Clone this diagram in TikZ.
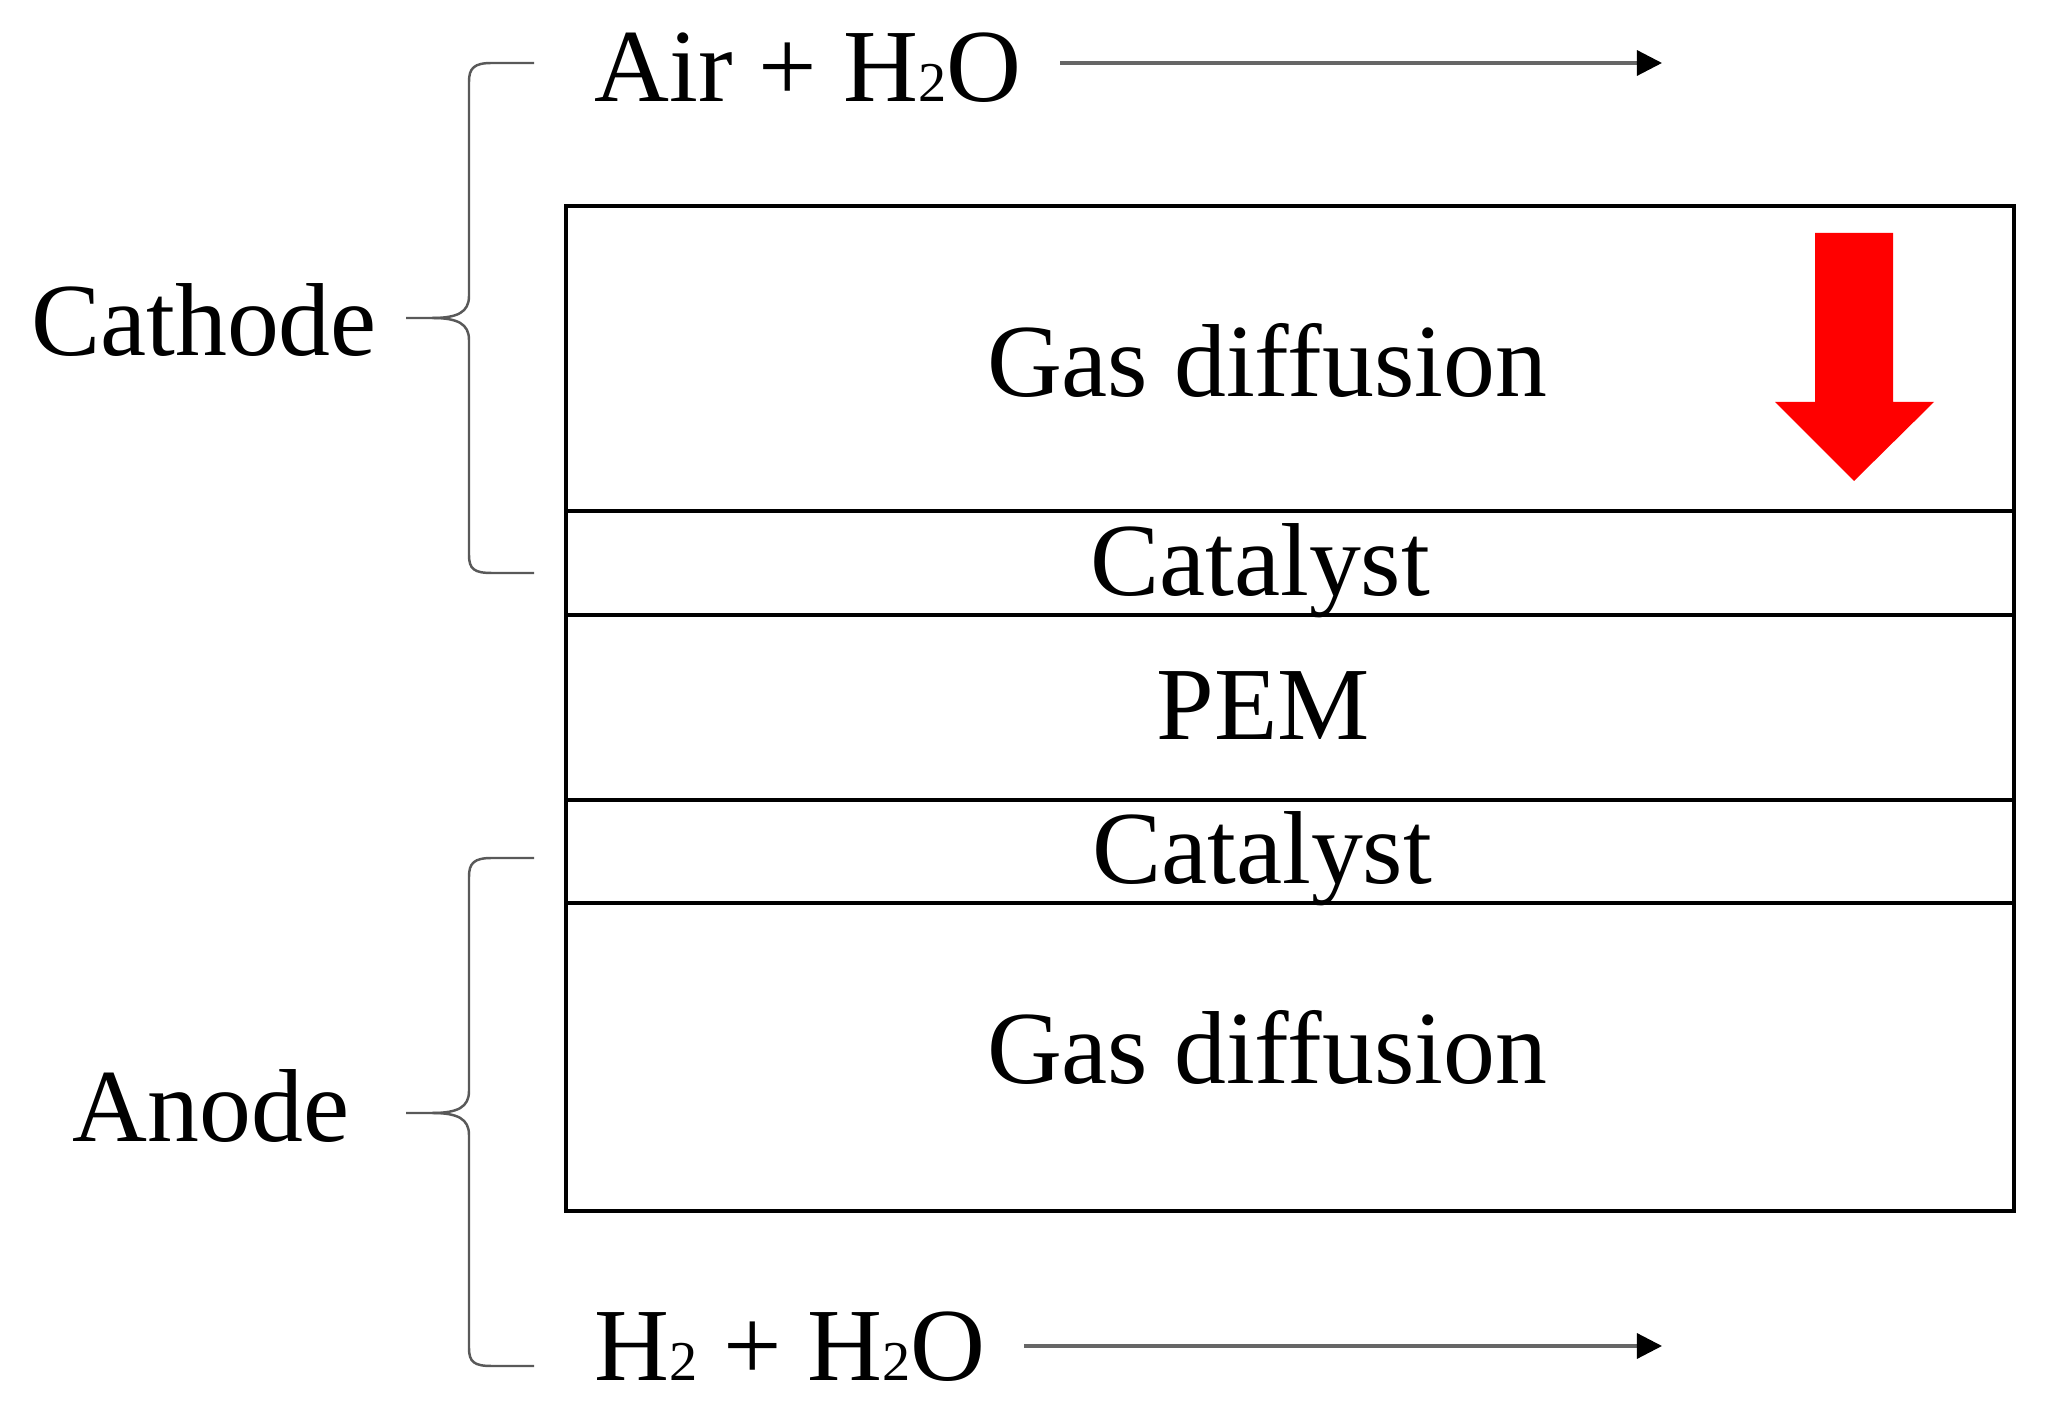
\documentclass[tikz,border=0pt]{standalone}
\usepackage{fontspec}
\setmainfont{Liberation Serif}
\usetikzlibrary{arrows.meta}
\newcommand{\subtwo}{{\fontsize{16pt}{16pt}\selectfont 2}}
\begin{document}
\begin{tikzpicture}[x=0.01cm,y=-0.01cm,
  lbl/.style={inner sep=0pt,anchor=base,font=\fontsize{29.5pt}{34pt}\selectfont},
  layer/.style={draw=black,line width=1pt},
  flow/.style={draw=black!60,line width=0.9pt,-{Triangle[length=0.25cm,width=0.25cm,color=black,fill=black]}},
  brace/.style={draw=black!65,line width=0.7pt},
  bigarrow/.style={fill=red,draw=none}]
\useasboundingbox (0,0) rectangle (2053,1419);
% layers
\draw[layer] (566,206) rectangle (2014,1211);
\draw[layer] (566,511) -- (2014,511);
\draw[layer] (566,615) -- (2014,615);
\draw[layer] (566,800) -- (2014,800);
\draw[layer] (566,903) -- (2014,903);
% layer labels
\node[lbl] (gd1) at (1267,397) {Gas diffusion};
\node[lbl] (cat1) at (1260,596) {Catalyst};
\node[lbl] (pem) at (1263,740) {PEM};
\node[lbl] (cat2) at (1262,884) {Catalyst};
\node[lbl] (gd2) at (1267,1084) {Gas diffusion};
% side labels
\node[lbl] (cath) at (204,356) {Cathode};
\node[lbl] (anod) at (211,1142) {Anode};
% flows
\node[lbl] (air) at (808,102) {Air + H\subtwo O};
\node[lbl] (hyd) at (790,1381) {H\subtwo{} + H\subtwo O};
\coordinate (airend) at (1662,63);
\coordinate (hydend) at (1662,1346);
\draw[flow] (air.east |- airend) ++(38,0) -- (airend);
\draw[flow] (hyd.east |- hydend) ++(38,0) -- (hydend);
% braces
\draw[brace] (534,63) -- (492,63) .. controls (474,63) and (469,68) .. (469,82)
  -- (469,296) .. controls (469,312) and (458,318) .. (432,318) -- (406,318);
\draw[brace] (432,318) .. controls (458,318) and (469,324) .. (469,340)
  -- (469,555) .. controls (469,569) and (474,573) .. (492,573) -- (534,573);
\draw[brace] (534,858) -- (492,858) .. controls (474,858) and (469,863) .. (469,877)
  -- (469,1091) .. controls (469,1107) and (458,1113) .. (432,1113) -- (406,1113);
\draw[brace] (432,1113) .. controls (458,1113) and (469,1119) .. (469,1135)
  -- (469,1348) .. controls (469,1362) and (474,1366) .. (492,1366) -- (534,1366);
% red arrow
\fill[bigarrow] (1815,233) -- (1893,233) -- (1893,402) -- (1934,402) -- (1854,481)
  -- (1775,402) -- (1815,402) -- cycle;
\end{tikzpicture}
\end{document}
